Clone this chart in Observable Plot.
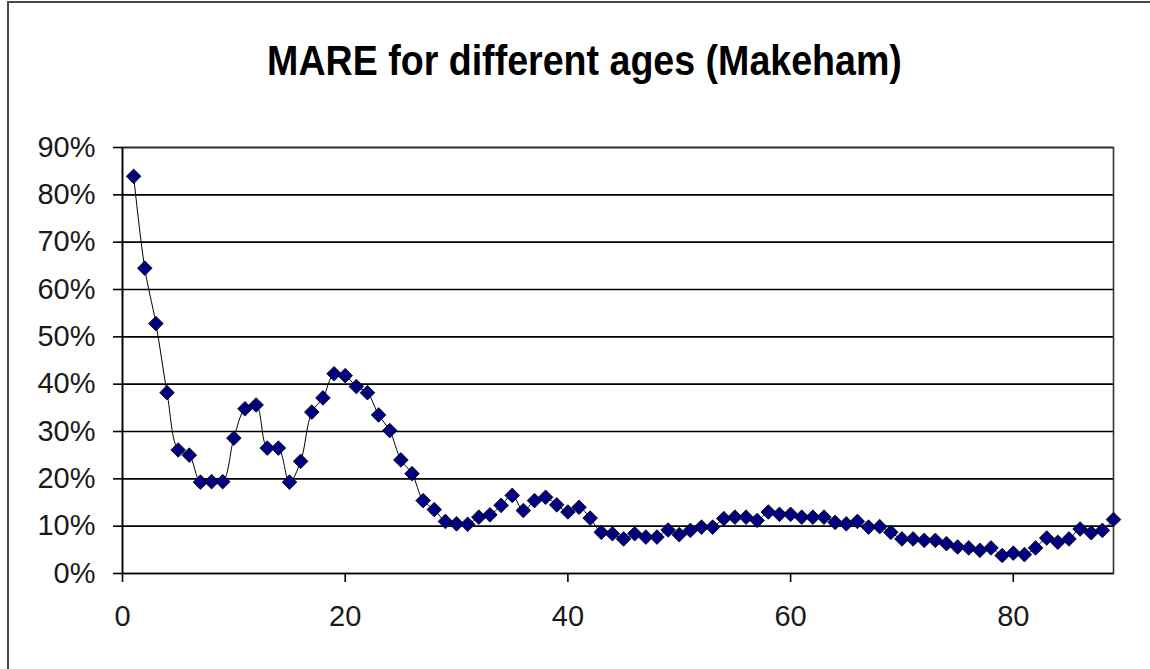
<!DOCTYPE html>
<html><head><meta charset="utf-8">
<script src="https://cdn.jsdelivr.net/npm/d3@7"></script>
<script src="https://cdn.jsdelivr.net/npm/@observablehq/plot@0.6"></script>
<style>
body{margin:0;background:#fff;}
#wrap{position:relative;width:1150px;height:669px;overflow:hidden;background:#fff;}
#border{position:absolute;left:7px;top:1px;width:1300px;height:800px;border-left:2px solid #4a4a4a;border-top:2px solid #4a4a4a;}
#title{position:absolute;left:0;top:38px;width:1169px;text-align:center;font:bold 37.6px "Liberation Sans",Arial,sans-serif;line-height:44px;transform:scaleY(1.15);color:#000;}
#plot{position:absolute;left:0;top:100px;}
#plot svg g[aria-label="y-axis tick label"] text, #plot svg g[aria-label="x-axis tick label"] text{fill:#1a1a1a;}
</style></head>
<body>
<div id="wrap">
  <div id="border"></div>
  <div id="title">MARE for different ages (Makeham)</div>
  <div id="plot"></div>
</div>
<script>
const titleText = "MARE for different ages (Makeham)";
const ages = d3.range(1, 90);
const mare = [
  83.9, 64.5, 52.8, 38.2, 26.1, 25.0, 19.3, 19.4, 19.4, 28.6,
  34.8, 35.6, 26.5, 26.5, 19.3, 23.7, 34.1, 37.1, 42.2, 41.8,
  39.5, 38.2, 33.5, 30.2, 24.0, 21.1, 15.4, 13.5, 11.0, 10.5,
  10.4, 11.9, 12.4, 14.4, 16.5, 13.3, 15.4, 16.1, 14.5, 13.0,
  14.0, 11.7, 8.7, 8.4, 7.3, 8.4, 7.7, 7.7, 9.2, 8.2,
  9.1, 9.8, 9.8, 11.6, 11.9, 11.9, 11.2, 13.0, 12.5, 12.5,
  11.9, 11.9, 11.9, 10.8, 10.5, 11.0, 9.8, 9.9, 8.7, 7.3,
  7.3, 7.0, 7.0, 6.3, 5.6, 5.4, 4.9, 5.4, 3.8, 4.3,
  4.0, 5.4, 7.5, 6.6, 7.3, 9.4, 8.6, 9.1, 11.4
];
const xTicks = [0, 20, 40, 60, 80];
const yTicks = [0, 0.1, 0.2, 0.3, 0.4, 0.5, 0.6, 0.7, 0.8, 0.9];

document.getElementById("title").textContent = titleText;
const data = ages.map((a, i) => ({age: a, v: mare[i] / 100}));

const chart = Plot.plot({
  width: 1150,
  height: 569,
  marginTop: 47,
  marginLeft: 122,
  marginRight: 37,
  marginBottom: 96,
  style: {fontFamily: "'Liberation Sans', Arial, sans-serif", fontSize: "29px", color: "#000", background: "transparent"},
  x: {domain: [0, 89]},
  y: {domain: [0, 0.9]},
  marks: [
    Plot.ruleY(yTicks.slice(1), {stroke: "#000", strokeWidth: 1.6}),
    Plot.frame({stroke: "#333", strokeWidth: 1.6}),
    Plot.ruleX([0], {stroke: "#000", strokeWidth: 1.6}),
    Plot.ruleY([0], {stroke: "#000", strokeWidth: 1.6}),
    Plot.axisY({ticks: yTicks, tickFormat: d3.format(".0%"), tickSize: 9, tickPadding: 18, label: null, stroke: "#000", strokeWidth: 1.6}),
    Plot.axisX({ticks: xTicks, tickSize: 9, tickPadding: 23, label: null, stroke: "#000", strokeWidth: 1.6}),
    Plot.line(data, {x: "age", y: "v", curve: "catmull-rom", stroke: "#000", strokeWidth: 1}),
    Plot.dot(data, {x: "age", y: "v", symbol: "diamond2", r: 6.6, fill: "#000080", stroke: "#000", strokeWidth: 0.8})
  ]
});
document.getElementById("plot").appendChild(chart);
</script>
</body></html>
